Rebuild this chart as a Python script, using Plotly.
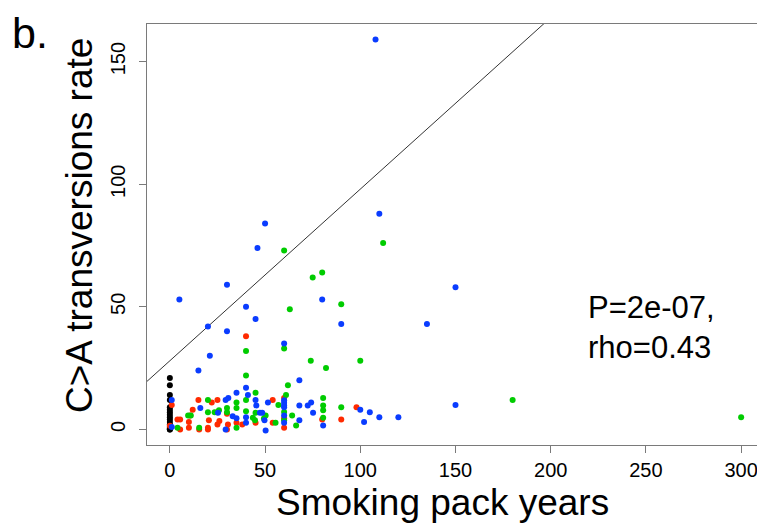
import plotly.graph_objects as go

# ---- data ----
black_x = [0]*16
black_y = [21, 18, 14, 12, 9, 8, 7, 6, 5, 4, 3, 2, 1, 0.5, 0, 0]

red_x = [1, 0, 15, 22, 25, 12, 20.5, 25, 30, 35, 38, 4, 5.4, 10, 10, 5.4, 15.4, 20, 20, 25, 30, 30.5,
         40, 54, 45, 54, 60, 60, 60, 80, 90, 98, 10.6, 26]
red_y = [10, 1.5, 12, 11, 12, 8, 3.7, 7, 6.4, 2.7, 2, 4, 4, 3, 0.7, 0, 0, 0.7, 0, 2, 0, 2,
         38, 12, 2.7, 2.7, 12.8, 4.6, 0.7, 4, 4, 9, 5.7, 3.4]

green_x = [60, 112, 75, 80, 90, 63, 60, 40, 74, 82, 100, 62, 40, 180, 300, 90, 20, 35, 40, 9.6, 11,
           20, 25.8, 30, 35, 40, 4, 15.4, 45, 61, 57, 45, 43.6, 44.7, 49.4, 50.3, 55.5, 64.2, 66.3,
           80.5, 80.5, 80.5, 80.5, 60, 60, 23.5, 30, 35]
green_y = [73, 76, 62, 64, 51, 49, 33, 32, 28, 25, 28, 18, 22, 12, 5, 9, 12, 11, 12, 5.7, 5.7,
           7, 7.8, 8.7, 8.7, 7.4, 0.7, 0.7, 15, 14, 10, 6.8, 4.8, 3.7, 4.4, 5.7, 2.7, 5.7, 1.6,
           12.8, 9.8, 7.8, 4.8, 7.1, 3.7, 7, 7, 0.7]

blue_x = [108, 110, 50, 46, 5, 30, 40, 45, 20, 30, 21, 15, 40, 80, 90, 135, 150, 150, 60, 68, 1,
          29.3, 30.7, 35, 41, 45, 16, 33, 35, 40, 40, 29.3, 51.5, 45.4, 47.3, 48.5, 50.3, 49.7,
          68, 68, 72.4, 74.2, 75.2, 80.5, 60, 60, 60, 60, 60, 60, 100, 105, 110, 120, 102, 25.3, 1]
blue_y = [159, 88, 84, 74, 53, 59, 50, 45, 42, 40, 30, 24, 17, 53, 43, 43, 58, 10, 35, 20, 12,
          12, 12.8, 15, 14, 12, 8.7, 5.4, 4.6, 5, 2.7, 0, 11, 9.8, 6.8, 6.8, -0.4, 3.7,
          9.8, 3.7, 9.8, 11, 6.8, 1.6, 11.9, 10.9, 9.8, 9, 5.7, 2.7, 8, 7, 5, 5, 3, 6.8, 1]

x_ticks = [0, 50, 100, 150, 200, 250, 300]
y_ticks = [0, 50, 100, 150]
x_range = [-12, 312]
y_range = [-6.36, 165.36]
line_a, line_b = 28, 0.7
stat_text = "P=2e-07,<br>rho=0.43"
x_title = "Smoking pack years"
y_title = "C&gt;A transversions rate"
panel_label = "b."

FONT = "Liberation Sans, Arial, Helvetica, sans-serif"

fig = go.Figure()

# reference line y = a + b*x across the x range
lx = [x_range[0], x_range[1]]
ly = [line_a + line_b * v for v in lx]
fig.add_trace(go.Scatter(x=lx, y=ly, mode="lines",
                         line=dict(color="#333333", width=1), hoverinfo="skip"))

groups = [
    (black_x, black_y, "#000000"),
    (red_x, red_y, "#FF2A00"),
    (green_x, green_y, "#00CC00"),
    (blue_x, blue_y, "#0A3CFF"),
]
for gx, gy, col in groups:
    fig.add_trace(go.Scatter(x=gx, y=gy, mode="markers",
                             marker=dict(color=col, size=6, line=dict(width=0))))

fig.add_annotation(x=218.5, y=41.5, xref="x", yref="y", text=stat_text, showarrow=False,
                   xanchor="left", yanchor="middle", align="left",
                   font=dict(family=FONT, size=31, color="#000000"))
fig.add_annotation(x=-0.2204, y=1.038, xref="paper", yref="paper", text=panel_label, showarrow=False,
                   xanchor="left", yanchor="top", borderpad=0,
                   font=dict(family=FONT, size=43, color="#000000"))
# axis titles (placed as in the reference, slightly off-centre)
fig.add_annotation(x=0.479, y=-0.1375, xref="paper", yref="paper", text=x_title, showarrow=False,
                   xanchor="center", yanchor="middle", borderpad=0,
                   font=dict(family=FONT, size=37, color="#000000"))
fig.add_annotation(x=-0.1086, y=0.5226, xref="paper", yref="paper", text=y_title, showarrow=False,
                   textangle=-90, xanchor="center", yanchor="middle",
                   font=dict(family=FONT, size=37, color="#000000"))

axis_common = dict(showgrid=False, zeroline=False, showline=True, mirror=True, automargin=False,
                   linecolor="#7a7a7a", linewidth=1, ticks="outside", ticklen=7,
                   tickcolor="#7a7a7a", tickwidth=1,
                   tickfont=dict(family=FONT, size=20, color="#000000"))

# page body has an 8px margin, so the figure is 8px smaller than the window
fig.update_layout(
    width=757, height=520,
    margin=dict(l=139, r=1, t=16, b=83),
    paper_bgcolor="white", plot_bgcolor="white",
    showlegend=False,
    xaxis=dict(range=x_range, tickvals=x_ticks, ticktext=[str(v) for v in x_ticks],
               **axis_common),
    yaxis=dict(range=y_range, tickvals=y_ticks, ticktext=[str(v) for v in y_ticks],
               tickangle=-90, ticklabelstandoff=6,
               **axis_common),
)

fig.write_html("out.html")
